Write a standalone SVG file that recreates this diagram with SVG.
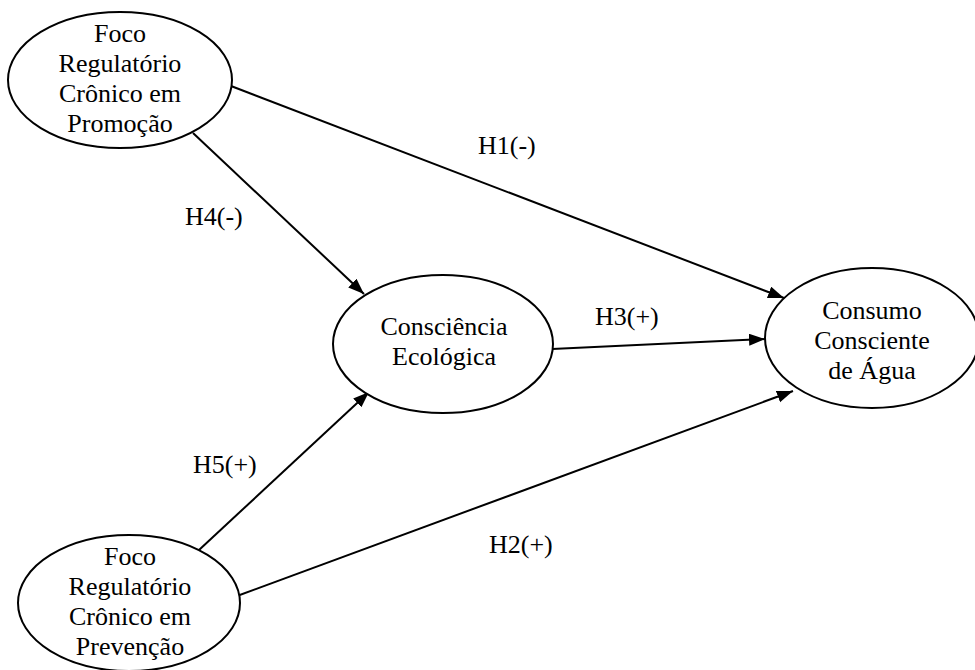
<svg xmlns="http://www.w3.org/2000/svg" width="975" height="670" viewBox="0 0 975 670" font-family="Liberation Serif, Times New Roman, serif">
<style>
.node ellipse{fill:#fff;stroke:#000;stroke-width:2}
text{font-family:'Liberation Serif','Times New Roman',serif;font-size:26px;fill:#000}
.n text{text-anchor:middle}
.edge line{stroke:#000;stroke-width:2;marker-end:url(#arr)}
</style>
<defs>
<marker id="arr" markerUnits="userSpaceOnUse" markerWidth="17" markerHeight="13" refX="16" refY="6" orient="auto">
<path d="M0,0 L16,6 L0,12 z" fill="#000"/>
</marker>
</defs>
<rect width="975" height="670" fill="#fff"/>
<g id="connectors" class="edge">
<line x1="231" y1="86" x2="784" y2="298"/>
<line x1="193" y1="133" x2="364" y2="294"/>
<line x1="552" y1="349" x2="765" y2="339"/>
<line x1="199" y1="550" x2="369" y2="392"/>
<line x1="237" y1="596" x2="793" y2="391"/>
</g>
<g id="labels">
<text x="478" y="154">H1(-)</text>
<text x="185" y="225">H4(-)</text>
<text x="595" y="325">H3(+)</text>
<text x="193" y="473">H5(+)</text>
<text x="489" y="553">H2(+)</text>
</g>
<g id="promocao" class="node n">
<ellipse cx="120" cy="80" rx="112" ry="68"/>
<text x="120" y="42">Foco</text>
<text x="120" y="72">Regulatório</text>
<text x="120" y="102">Crônico em</text>
<text x="120" y="132">Promoção</text>
</g>
<g id="prevencao" class="node n">
<ellipse cx="129" cy="603" rx="111" ry="68"/>
<text x="130" y="565">Foco</text>
<text x="130" y="595">Regulatório</text>
<text x="130" y="625">Crônico em</text>
<text x="130" y="655">Prevenção</text>
</g>
<g id="consciencia" class="node n">
<ellipse cx="443" cy="344" rx="110" ry="69"/>
<text x="444" y="335">Consciência</text>
<text x="444" y="365">Ecológica</text>
</g>
<g id="consumo" class="node n">
<ellipse cx="872" cy="338" rx="107" ry="70"/>
<text x="872" y="319">Consumo</text>
<text x="872" y="349">Consciente</text>
<text x="872" y="379">de Água</text>
</g>
</svg>
